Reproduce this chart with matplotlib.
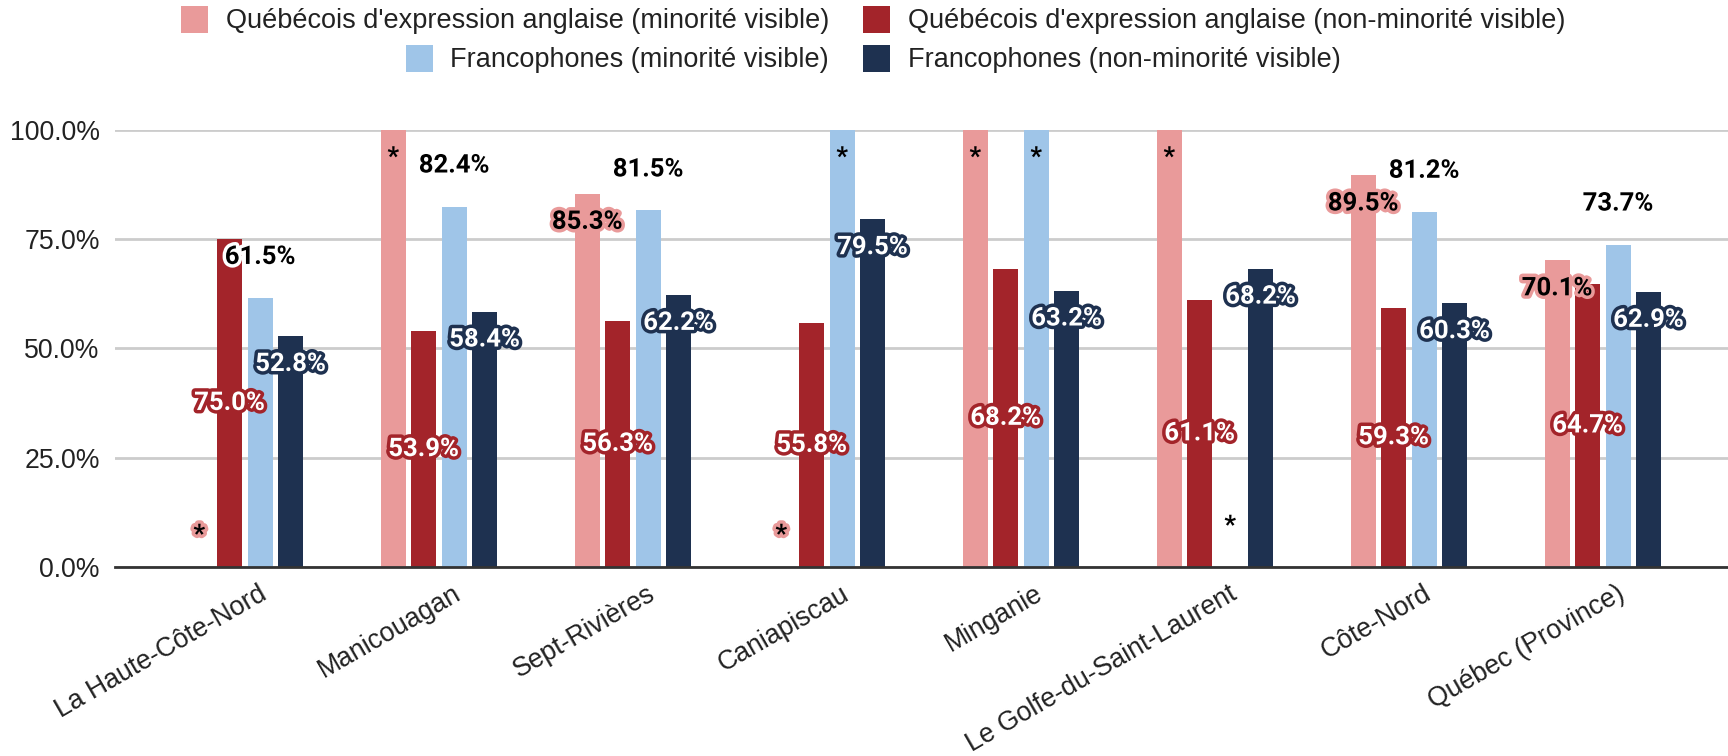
import numpy as np
import matplotlib
matplotlib.use("Agg")
import matplotlib.pyplot as plt
import matplotlib.patheffects as pe
from matplotlib.patches import Patch
from matplotlib.transforms import ScaledTranslation

OUTPUT_FILE = "out.png"

regions = ["La Haute-Côte-Nord", "Manicouagan", "Sept-Rivières", "Caniapiscau",
           "Minganie", "Le Golfe-du-Saint-Laurent", "Côte-Nord", "Québec (Province)"]

series_names = [
    "Québécois d'expression anglaise (minorité visible)",
    "Québécois d'expression anglaise (non-minorité visible)",
    "Francophones (minorité visible)",
    "Francophones (non-minorité visible)",
]

# values in %, '*' flags mark suppressed figures
anglo_vm = [0, 100, 85.3, 0, 100, 100, 89.5, 70.1]
anglo_vm_star = [True, True, False, True, True, True, False, False]
anglo_nvm = [75.0, 53.9, 56.3, 55.8, 68.2, 61.1, 59.3, 64.7]
anglo_nvm_star = [False] * 8
franco_vm = [61.5, 82.4, 81.5, 100, 100, 0, 81.2, 73.7]
franco_vm_star = [False, False, False, True, True, True, False, False]
franco_nvm = [52.8, 58.4, 62.2, 79.5, 63.2, 68.2, 60.3, 62.9]
franco_nvm_star = [False] * 8

colors = ["#E99A9A", "#A3242A", "#9FC5E8", "#1E3150"]
text_colors = ["#000000", "#FFFFFF", "#000000", "#FFFFFF"]
halo_colors = ["#E99A9A", "#A3242A", "#FFFFFF", "#1E3150"]
# where each series puts its value label: inside end, centre, outside end
label_modes = ["inside", "center", "outside", "inside"]

W, H = 1728, 756
fig = plt.figure(figsize=(W / 100, H / 100), dpi=100)
ax = fig.add_axes([115 / W, 1 - 567 / H, (W - 115) / W, (567 - 129.5) / H])

x = np.arange(len(regions))
bar_w = 0.131
step = 0.157

all_vals = [anglo_vm, anglo_nvm, franco_vm, franco_nvm]
all_stars = [anglo_vm_star, anglo_nvm_star, franco_vm_star, franco_nvm_star]

for k, (vals, stars) in enumerate(zip(all_vals, all_stars)):
    pos = x + (k - 1.5) * step
    ax.bar(pos, vals, bar_w, color=colors[k], zorder=3, label=series_names[k])
    for xi, v, s in zip(pos, vals, stars):
        txt = "*" if s else f"{v:.1f}%"
        mode = label_modes[k]
        y = v
        dy = 0
        halo = halo_colors[k]
        if mode == "center":
            y = v / 2
        elif mode == "inside":
            dy = 32 if v == 0 else -28
        elif v >= 100:
            # no room above the bar: label goes inside
            dy = -28
            halo = colors[k]
        else:
            dy = 41
        ax.annotate(txt, (xi, y), xytext=(0, dy), textcoords="offset pixels",
                    ha="center", va="center", fontsize=18.5, family="Roboto",
                    fontweight="bold", color=text_colors[k], zorder=6,
                    annotation_clip=False,
                    path_effects=[pe.withStroke(linewidth=5, foreground=halo)])

ax.set_xlim((115 - 245) / 194, (W - 245) / 194)
ax.set_ylim(0, 100)
ax.set_yticks([0, 25, 50, 75, 100])
ax.set_yticklabels([f"{t:.1f}%" for t in [0, 25, 50, 75, 100]],
                   fontsize=19.2, family="Liberation Sans", color="#222222")
ax.yaxis.grid(True, color="#cccccc", lw=2)
ax.set_axisbelow(True)
for side in ["top", "right", "left"]:
    ax.spines[side].set_visible(False)
ax.spines["bottom"].set_color("#333333")
ax.spines["bottom"].set_linewidth(2)
ax.spines["bottom"].set_zorder(4)
ax.tick_params(axis="both", length=0)
ax.tick_params(axis="y", pad=11)
ax.tick_params(axis="x", pad=18)

ax.set_xticks(x)
ax.set_xticklabels(regions, rotation=30, ha="right", va="center",
                   rotation_mode="anchor", fontsize=19.2,
                   family="Liberation Sans", color="#222222")
shift = ScaledTranslation(0.20, 0, fig.dpi_scale_trans)
for lbl in ax.get_xticklabels():
    lbl.set_transform(lbl.get_transform() + shift)

# legend: first column right-aligned, second column left-aligned
leg_kw = dict(frameon=False, handlelength=1.0, handleheight=1.15,
              handletextpad=0.65, borderpad=0, borderaxespad=0,
              prop={"family": "Liberation Sans", "size": 19.5})
rows_y = [1 - 20 / H, 1 - 59 / H]
for k in range(4):
    row = k // 2
    h = Patch(facecolor=colors[k], edgecolor="none")
    if k % 2 == 0:
        leg = fig.legend([h], [series_names[k]], loc="center right",
                         bbox_to_anchor=(829 / W, rows_y[row]), **leg_kw)
    else:
        leg = fig.legend([h], [series_names[k]], loc="center left",
                         bbox_to_anchor=(863 / W, rows_y[row]), **leg_kw)
    for t in leg.get_texts():
        t.set_color("#222222")

fig.savefig(OUTPUT_FILE, dpi=100)
